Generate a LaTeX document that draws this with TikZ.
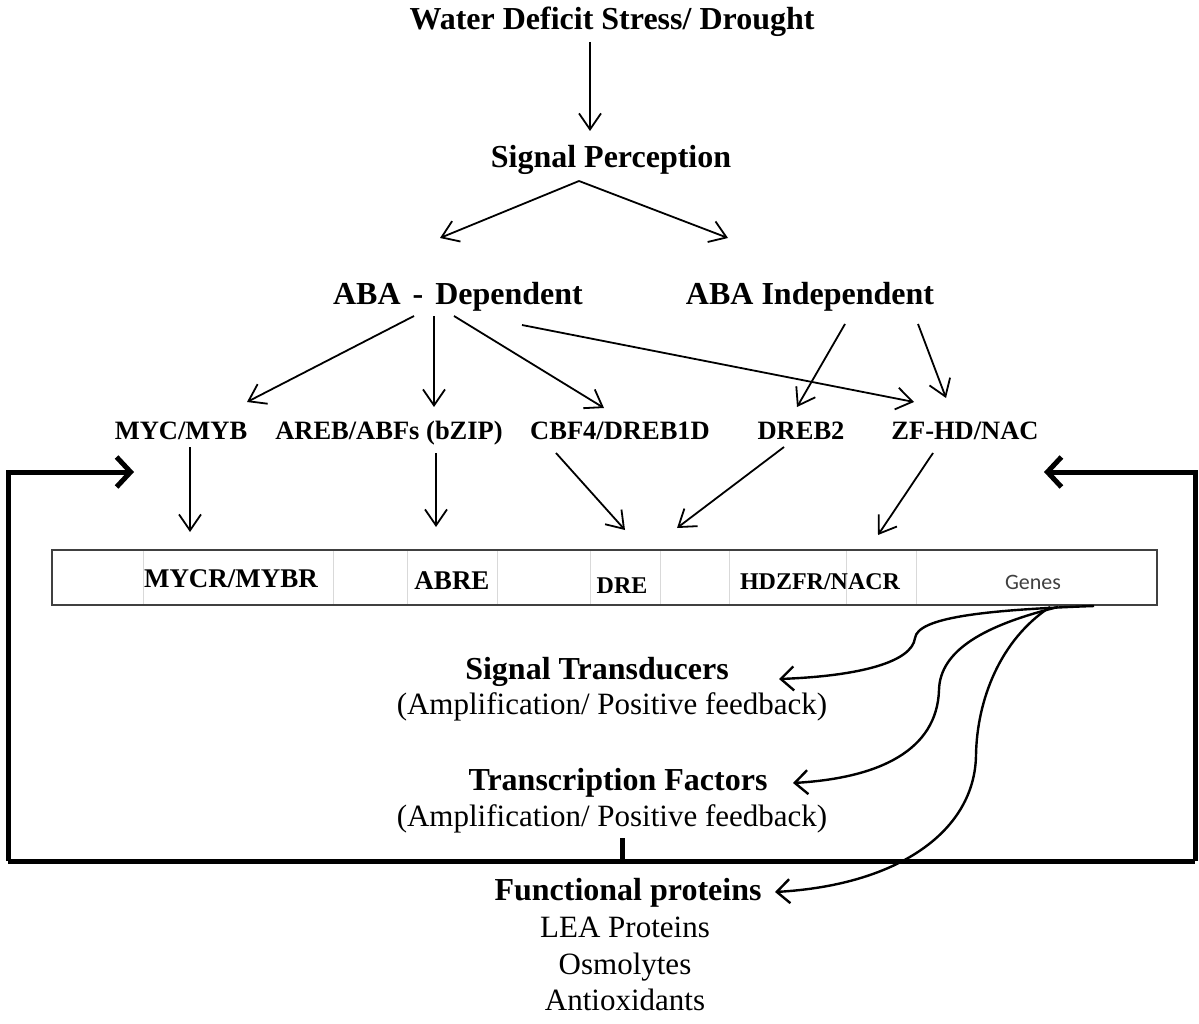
\documentclass[tikz,border=0pt]{standalone}
\usepackage{fontspec}
\setmainfont{Liberation Serif}
\newfontfamily\genesfont{Carlito}
\usetikzlibrary{arrows.meta}
\begin{document}
\begin{tikzpicture}[x=1pt,y=-1pt,
  lbl/.style={font=\fontsize{32}{38}\selectfont\bfseries, inner sep=0pt, text height=22pt, text depth=7pt},
  sub/.style={font=\fontsize{31}{37}\selectfont, inner sep=0pt, text height=22pt, text depth=7pt},
  tfl/.style={font=\fontsize{26.5}{31}\selectfont\bfseries, inner sep=0pt, text height=18pt, text depth=6pt},
  cell/.style={font=\fontsize{27}{31}\selectfont\bfseries, inner sep=0pt, text height=19pt, text depth=0pt},
  cellsm/.style={font=\fontsize{24}{28}\selectfont\bfseries, inner sep=0pt, text height=17pt, text depth=0pt},
  arr/.style={line width=1.8pt, -{Straight Barb[length=16pt,width=22pt]}},
  fbline/.style={line width=5pt},
  fbarr/.style={line width=5pt, -{Straight Barb[length=14pt,width=30pt]}},
  carr/.style={line width=2.4pt, -{Straight Barb[length=13pt,width=24pt]}},
  divider/.style={line width=0.8pt, black!15}
]
\useasboundingbox (0,0) rectangle (1199,1024);
\fill[white] (0,0) rectangle (1199,1024);

% --- text nodes ---
\node[lbl] (title) at (612,22) {Water Deficit Stress/ Drought};
\node[lbl] (sp) at (611,160) {Signal Perception};
\node[lbl] (dep) at (458,297) {ABA\hspace{12pt}-\hspace{12pt}Dependent};
\node[lbl] (ind) at (810,297) {ABA Independent};

\node[tfl] (myc) at (181,433) {MYC/MYB};
\node[tfl] (areb) at (389,433) {AREB/ABFs (bZIP)};
\node[tfl] (cbf) at (620,433) {CBF4/DREB1D};
\node[tfl] (dreb) at (801,433) {DREB2};
\node[tfl] (zf) at (965,433) {ZF-HD/NAC};

% --- gene box ---
\node[draw=black!75, line width=2.2pt, minimum width=1105pt, minimum height=55pt, inner sep=0pt] (box) at (604.5,577.5) {};
\foreach \dx in {143,333,407,497,590,660,729,846,916}
  \draw[divider] (\dx,551) -- (\dx,604);
\node[cell, anchor=base] (mycr) at (231,587) {MYCR/MYBR};
\node[cell, anchor=base] (abre) at (452,589) {ABRE};
\node[cellsm, anchor=base] (dre) at (622,593) {DRE};
\node[cellsm, anchor=base] (hdz) at (820,589) {HDZFR/NACR};
\node[font=\genesfont\fontsize{22}{26}\selectfont, text=black!75, inner sep=0pt] (genes) at (1033,582) {Genes};

\node[lbl] (st) at (597,672) {Signal Transducers};
\node[sub] (am1) at (612,707) {(Amplification/ Positive feedback)};
\node[lbl] (tf) at (618,783) {Transcription Factors};
\node[sub] (am2) at (612,819) {(Amplification/ Positive feedback)};
\node[lbl] (fp) at (628,893) {Functional proteins};
\node[sub] (lea) at (625,930) {LEA Proteins};
\node[sub] (osm) at (625,967) {Osmolytes};
\node[sub] (anti) at (625,1003) {Antioxidants};

% --- arrow end points ---
\coordinate (t1) at (590,42);   \coordinate (t2) at (590,131);
\coordinate (spa) at (579,181);
\coordinate (spl) at (440,238); \coordinate (spr) at (728,238);
\coordinate (d1s) at (414,316); \coordinate (d1e) at (247,402);
\coordinate (d2s) at (434,316); \coordinate (d2e) at (434,407);
\coordinate (d3s) at (454,316); \coordinate (d3e) at (604,408);
\coordinate (d4s) at (522,325); \coordinate (d4e) at (914,402);
\coordinate (i1s) at (845,324); \coordinate (i1e) at (797,407);
\coordinate (i2s) at (918,324); \coordinate (i2e) at (946,398);
\coordinate (r1s) at (190,447); \coordinate (r1e) at (190,532);
\coordinate (r2s) at (436,453); \coordinate (r2e) at (436,527);
\coordinate (r3s) at (556,453); \coordinate (r3e) at (625,530);
\coordinate (r4s) at (784,447); \coordinate (r4e) at (677,528);
\coordinate (r5s) at (933,453); \coordinate (r5e) at (878,535);

\draw[arr] (t1) -- (t2);
\draw[arr] (spa) -- (spl);
\draw[arr] (spa) -- (spr);
\draw[arr] (d1s) -- (d1e);
\draw[arr] (d2s) -- (d2e);
\draw[arr] (d3s) -- (d3e);
\draw[arr] (d4s) -- (d4e);
\draw[arr] (i1s) -- (i1e);
\draw[arr] (i2s) -- (i2e);
\draw[arr] (r1s) -- (r1e);
\draw[arr] (r2s) -- (r2e);
\draw[arr] (r3s) -- (r3e);
\draw[arr] (r4s) -- (r4e);
\draw[arr] (r5s) -- (r5e);

% --- curved arrows from Genes ---
\coordinate (g1) at (1094,606);
\coordinate (g2) at (1058,607);
\coordinate (g3) at (1050,607);
\coordinate (c1) at (779,679);
\coordinate (c2) at (793,783);
\coordinate (c3) at (775,892);
\draw[carr] (g1) .. controls (980,610) and (918,618) .. (915,638)
  .. controls (912,662) and (860,676) .. (c1);
\draw[carr] (g2) .. controls (985,625) and (940,650) .. (939,690)
  .. controls (937,750) and (880,778) .. (c2);
\draw[carr] (g3) .. controls (1000,640) and (977,700) .. (976,755)
  .. controls (975,830) and (900,885) .. (c3);

% --- feedback loop ---
\coordinate (fbl) at (8,861);
\coordinate (fbr) at (1195,861);
\coordinate (fbtick) at (622,838);
\coordinate (fbltip) at (134,472);
\coordinate (fbrtip) at (1044,472);
\draw[fbline] (fbl) -- (fbr);
\draw[fbline] (fbtick) -- (622,861);
\draw[fbarr] (fbl) |- (fbltip);
\draw[fbarr] (fbr) |- (fbrtip);
\end{tikzpicture}
\end{document}
